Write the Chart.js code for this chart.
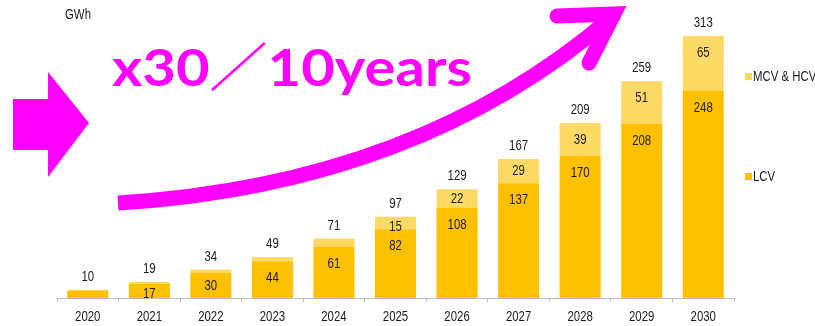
<!DOCTYPE html>
<html>
<head>
<meta charset="utf-8">
<script src="https://cdn.jsdelivr.net/npm/chart.js@4"></script>
<style>
  body { margin: 0; background: #fff; }
  #wrap { width: 815px; height: 326px; }
</style>
</head>
<body>
<div id="wrap"><canvas id="myChart" width="815" height="326"></canvas></div>
<script>
// ================= Data =================
const years = ['2020', '2021', '2022', '2023', '2024', '2025', '2026', '2027', '2028', '2029', '2030'];
const lcv = [9, 17, 30, 44, 61, 82, 108, 137, 170, 208, 248];
const mcvHcv = [1, 2, 4, 5, 10, 15, 22, 29, 39, 51, 65];
const totals = [10, 19, 34, 49, 71, 97, 129, 167, 209, 259, 313];

const LCV_COLOR = '#FFC000';
const MCV_COLOR = '#FFD966';
const MAGENTA = '#FF00FF';
const TEXT_COLOR = '#1a1a1a';
const TEXT_FONT = '15px "Liberation Sans", Arial, sans-serif';

// narrow text: regular sans squeezed horizontally
function narrowText(c, text, x, y) {
  c.save();
  c.translate(x, y);
  c.scale(0.76, 1);
  c.fillText(text, 0, 0);
  c.restore();
}

// ================= Value labels =================
const valueLabels = {
  id: 'valueLabels',
  afterDatasetsDraw(chart) {
    const c = chart.ctx;
    c.save();
    c.font = TEXT_FONT;
    c.fillStyle = TEXT_COLOR;
    c.textAlign = 'center';
    c.textBaseline = 'middle';

    // segment values, anchored near the top inside each segment
    chart.data.datasets.forEach((ds, di) => {
      const meta = chart.getDatasetMeta(di);
      meta.data.forEach((bar, i) => {
        const v = ds.data[i];
        if (v < 15) return;
        const h = bar.base - bar.y;
        const off = Math.min(17, Math.max(h / 2, 10));
        narrowText(c, String(v), bar.x, bar.y + off);
      });
    });

    // totals above each stack
    const top = chart.getDatasetMeta(chart.data.datasets.length - 1);
    top.data.forEach((bar, i) => {
      narrowText(c, String(totals[i]), bar.x, bar.y - 13);
    });

    // year labels under the axis
    const xs = chart.scales.x;
    years.forEach((yr, i) => {
      narrowText(c, yr, xs.getPixelForValue(i), 317);
    });
    c.restore();
  }
};

// ================= Legend + annotations =================
const extras = {
  id: 'extras',
  afterDraw(chart) {
    const c = chart.ctx;
    c.save();

    // unit
    c.font = TEXT_FONT;
    c.fillStyle = TEXT_COLOR;
    c.textAlign = 'left';
    c.textBaseline = 'middle';
    narrowText(c, 'GWh', 65, 15);

    // legend, spread down the right side
    const legendRows = [
      { label: chart.data.datasets[1].label, color: chart.data.datasets[1].backgroundColor, y: 77 },
      { label: chart.data.datasets[0].label, color: chart.data.datasets[0].backgroundColor, y: 177 }
    ];
    legendRows.forEach(r => {
      c.fillStyle = r.color;
      c.fillRect(745, r.y - 4, 7, 7);
      c.fillStyle = TEXT_COLOR;
      narrowText(c, r.label, 753, r.y);
    });

    c.fillStyle = MAGENTA;
    c.strokeStyle = MAGENTA;

    // block arrow on the left
    c.beginPath();
    c.moveTo(13, 99);
    c.lineTo(48, 99);
    c.lineTo(48, 72);
    c.lineTo(89, 123);
    c.lineTo(48, 177);
    c.lineTo(48, 150);
    c.lineTo(13, 150);
    c.closePath();
    c.fill();

    // growth curve
    c.lineWidth = 15;
    c.lineCap = 'butt';
    c.beginPath();
    c.moveTo(118, 203);
    c.bezierCurveTo(330, 190, 490, 122, 612, 17);
    c.stroke();

    // arrow head
    c.lineCap = 'round';
    c.lineJoin = 'miter';
    c.miterLimit = 10;
    c.beginPath();
    c.moveTo(557, 16);
    c.lineTo(614, 14);
    c.lineTo(589, 63);
    c.stroke();

    // headline
    const headline = 'x30／10years';
    c.font = 'bold 52px Lato, "Noto Sans CJK JP", sans-serif';
    c.textBaseline = 'alphabetic';
    const w = c.measureText(headline).width;
    c.translate(112, 86);
    c.scale(360 / w, 1);
    c.fillText(headline, 0, 0);

    c.restore();
  }
};

// ================= Stacked Bar Chart =================
const ctx = document.getElementById('myChart');

new Chart(ctx, {
  type: 'bar',
  data: {
    labels: years,
    datasets: [
      {
        label: 'LCV',
        data: lcv,
        backgroundColor: LCV_COLOR,
        barPercentage: 0.667,
        categoryPercentage: 1
      },
      {
        label: 'MCV & HCV',
        data: mcvHcv,
        backgroundColor: MCV_COLOR,
        barPercentage: 0.667,
        categoryPercentage: 1
      }
    ]
  },
  options: {
    responsive: false,
    animation: false,
    layout: {
      padding: { left: 57, right: 81, top: 5, bottom: 0 }
    },
    scales: {
      x: {
        stacked: true,
        afterFit(scale) { scale.height = 28; },
        grid: {
          display: true,
          drawOnChartArea: false,
          tickLength: 4,
          color: '#BFBFBF',
          offset: true
        },
        border: { color: '#BFBFBF' },
        ticks: {
          color: 'rgba(0,0,0,0)', // drawn narrow by valueLabels
          font: { size: 14 }
        }
      },
      y: {
        stacked: true,
        display: false,
        min: 0,
        max: 350
      }
    },
    plugins: {
      legend: { display: false },
      tooltip: { enabled: false }
    }
  },
  plugins: [valueLabels, extras]
});
</script>
</body>
</html>
